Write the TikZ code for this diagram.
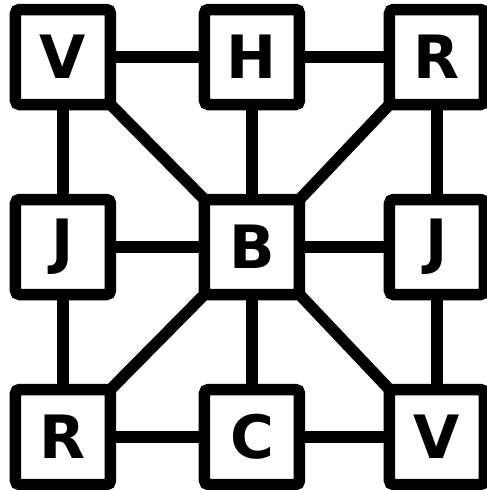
\documentclass[tikz,border=0pt]{standalone}
\usepackage{fontspec}
\setmainfont{DejaVu Sans}
\usepackage{tikz}
\usetikzlibrary{positioning}

\begin{document}
\begin{tikzpicture}[line width=0.23cm,
  every node/.style={draw, rectangle, rounded corners=0.08cm, fill=white, outer sep=0pt,
    minimum size=1.9cm, inner sep=0pt, font=\fontsize{34}{34}\selectfont\bfseries}]
  \useasboundingbox (0,0) rectangle (9.74,9.80);
  % grid of letter boxes
  \node (v1) at (1.26,8.66) {V}; \node (h1) at (5.04,8.66) {H}; \node (r1) at (8.74,8.66) {R};
  \node (j1) at (1.26,4.86) {J}; \node (b1) at (5.04,4.86) {B}; \node (j2) at (8.74,4.86) {J};
  \node (r2) at (1.26,1.06) {R}; \node (c1) at (5.04,1.06) {C}; \node (v2) at (8.74,1.06) {V};
  % outer ring
  \draw (v1)--(h1)--(r1) (r2)--(c1)--(v2) (v1)--(j1)--(r2) (r1)--(j2)--(v2);
  % spokes to the centre
  \draw (h1)--(b1)--(c1) (j1)--(b1)--(j2);
  \draw (v1.south east)--(b1.north west) (r1.south west)--(b1.north east)
        (r2.north east)--(b1.south west) (v2.north west)--(b1.south east);
\end{tikzpicture}
\end{document}
